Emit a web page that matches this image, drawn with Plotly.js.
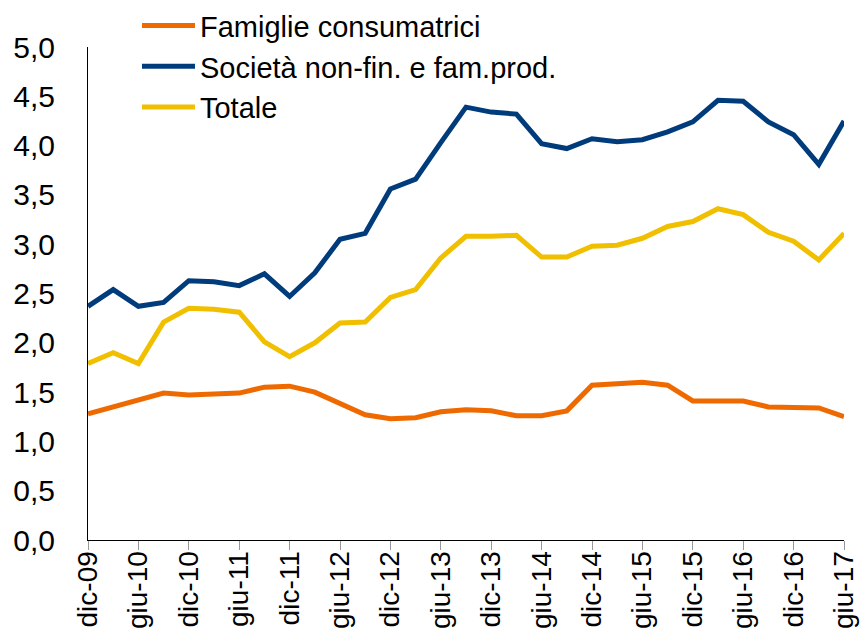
<!DOCTYPE html>
<html>
<head>
<meta charset="utf-8">
<script src="https://cdn.plot.ly/plotly-3.0.1.min.js"></script>
<style>html,body{margin:0;padding:0;background:#fff;}#chart{width:861px;height:638px;}</style>
</head>
<body>
<div id="chart"></div>
<script>
const quarters = ["dic-09","mar-10","giu-10","set-10","dic-10","mar-11","giu-11","set-11","dic-11","mar-12","giu-12","set-12","dic-12","mar-13","giu-13","set-13","dic-13","mar-14","giu-14","set-14","dic-14","mar-15","giu-15","set-15","dic-15","mar-16","giu-16","set-16","dic-16","mar-17","giu-17"];
const tickLabels = ["dic-09","giu-10","dic-10","giu-11","dic-11","giu-12","dic-12","giu-13","dic-13","giu-14","dic-14","giu-15","dic-15","giu-16","dic-16","giu-17"];
const famiglie = [1.28,1.35,1.41,1.49,1.47,1.48,1.49,1.55,1.56,1.50,1.39,1.27,1.23,1.24,1.30,1.32,1.31,1.26,1.26,1.31,1.57,1.58,1.60,1.57,1.41,1.41,1.41,1.35,1.34,1.34,1.25];
const societa = [2.37,2.54,2.37,2.41,2.63,2.62,2.58,2.70,2.47,2.71,3.05,3.11,3.56,3.66,4.03,4.39,4.34,4.32,4.02,3.97,4.07,4.04,4.06,4.14,4.24,4.46,4.45,4.24,4.11,3.81,4.25];
const totale = [1.79,1.90,1.79,2.21,2.35,2.34,2.31,2.01,1.86,2.00,2.20,2.21,2.46,2.54,2.86,3.08,3.08,3.09,2.87,2.87,2.98,2.99,3.06,3.18,3.23,3.36,3.30,3.12,3.03,2.84,3.11];
const seriesNames = ["Famiglie consumatrici","Società non-fin. e fam.prod.","Totale"];
const seriesColors = ["#EE6A00","#003C7C","#F0C000"];

const FONT = "Liberation Sans, Arial, sans-serif";
const data = [famiglie, societa, totale].map((v, k) => ({
  type: "scatter", mode: "lines", x: quarters, y: v, name: seriesNames[k],
  line: {color: seriesColors[k], width: 5}
}));

const layout = {
  width: 861, height: 638,
  margin: {l: 88, r: 17, t: 47, b: 98, autoexpand: false},
  paper_bgcolor: "#fff", plot_bgcolor: "#fff",
  separators: ",.",
  font: {family: FONT, color: "#000"},
  showlegend: true,
  legend: {x: 0.0648, xanchor: "left", y: 1.095, yanchor: "top", itemwidth: 53,
           font: {size: 29, family: FONT}, bgcolor: "rgba(0,0,0,0)", tracegroupgap: 0},
  xaxis: {
    type: "category", categoryorder: "array", categoryarray: quarters,
    range: [0, quarters.length - 1],
    tickmode: "array", tickvals: tickLabels, ticktext: tickLabels,
    tickangle: -90, tickfont: {size: 28, family: FONT},
    ticks: "outside", ticklen: 9, tickcolor: "#999", tickwidth: 1,
    ticklabelstandoff: -10,
    showline: true, linecolor: "#000", linewidth: 1,
    showgrid: false, zeroline: false, automargin: false
  },
  yaxis: {
    range: [0, 5], dtick: 0.5, tick0: 0, tickformat: ".1f",
    tickfont: {size: 30, family: FONT},
    ticks: "", ticklabelstandoff: 26,
    showline: true, linecolor: "#000", linewidth: 1,
    showgrid: false, zeroline: false, automargin: false
  }
};
Plotly.newPlot("chart", data, layout, {staticPlot: true, displayModeBar: false});
</script>
</body>
</html>
